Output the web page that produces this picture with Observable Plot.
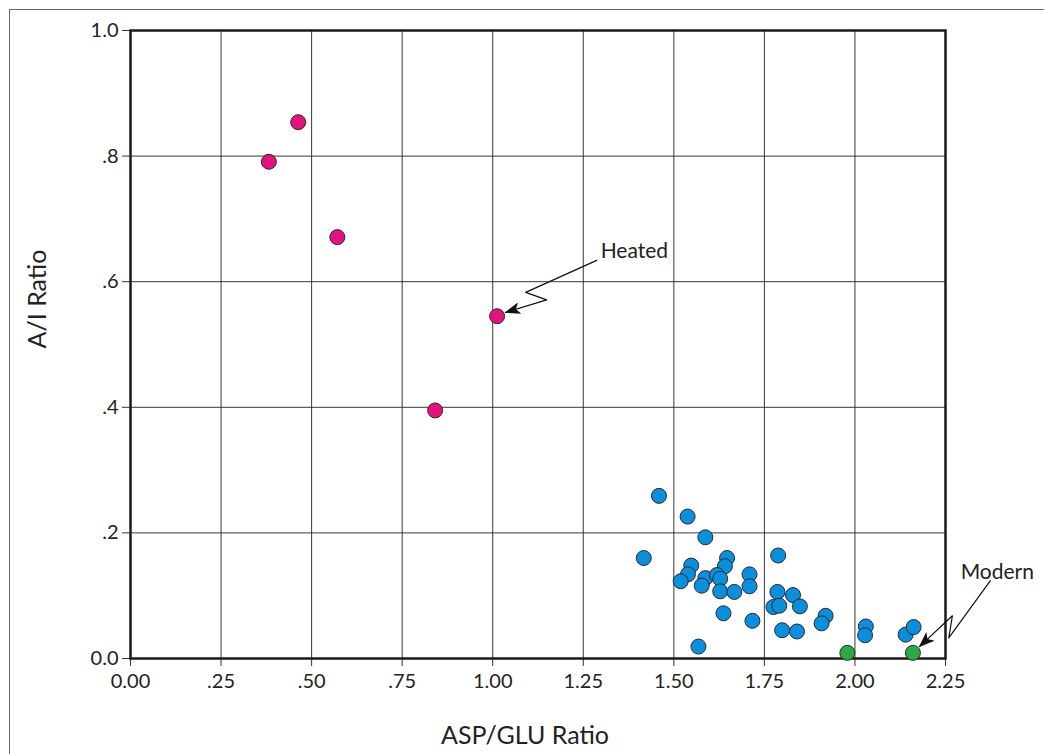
<!DOCTYPE html>
<html><head><meta charset="utf-8">
<script src="https://cdn.jsdelivr.net/npm/d3@7"></script>
<script src="https://cdn.jsdelivr.net/npm/@observablehq/plot@0.6"></script>
<style>
body{margin:0;background:#fff;}
#wrap{position:relative;width:1044px;height:754px;overflow:hidden;}
#outer{position:absolute;left:9px;top:9px;width:1100px;height:800px;border-left:1.5px solid #666;border-top:1.5px solid #666;pointer-events:none;}
#chart{position:absolute;left:0;top:0;}
</style></head><body>
<div id="wrap"><div id="outer"></div><div id="chart"></div></div>
<script>
// Heated samples (magenta)
const heatedX = [0.463, 0.382, 0.571, 1.012, 0.841];
const heatedY = [0.854, 0.791, 0.671, 0.545, 0.395];
// Archaeological samples (blue)
const sampleX = [1.459, 1.538, 1.587, 1.417, 1.548, 1.539, 1.519, 1.587, 1.577, 1.647,
                 1.641, 1.619, 1.628, 1.628, 1.667, 1.709, 1.709, 1.637, 1.717, 1.568,
                 1.788, 1.786, 1.829, 1.775, 1.791, 1.848, 1.799, 1.840, 1.919, 1.908,
                 2.030, 2.028, 2.140, 2.162];
const sampleY = [0.259, 0.226, 0.193, 0.160, 0.148, 0.134, 0.123, 0.128, 0.116, 0.160,
                 0.147, 0.133, 0.127, 0.107, 0.106, 0.134, 0.115, 0.072, 0.060, 0.019,
                 0.164, 0.106, 0.101, 0.082, 0.084, 0.083, 0.045, 0.043, 0.068, 0.056,
                 0.051, 0.037, 0.038, 0.050];
// Modern samples (green)
const modernX = [1.979, 2.160];
const modernY = [0.009, 0.009];

// Axis ticks and labels
const xTicks = [0, 0.25, 0.5, 0.75, 1.0, 1.25, 1.5, 1.75, 2.0, 2.25];
const xTickLabels = ["0.00", ".25", ".50", ".75", "1.00", "1.25", "1.50", "1.75", "2.00", "2.25"];
const yTicks = [0, 0.2, 0.4, 0.6, 0.8, 1.0];
const yTickLabels = ["0.0", ".2", ".4", ".6", ".8", "1.0"];
const xTitle = "ASP/GLU Ratio";
const yTitle = "A/I Ratio";

// Annotations (data coordinates)
const heatedLabel = {text: "Heated", x: 1.298, y: 0.648};
const heatedArrowX = [1.287, 1.091, 1.149, 1.035];
const heatedArrowY = [0.634, 0.583, 0.571, 0.551];
const modernLabel = {text: "Modern", x: 2.393, y: 0.138};
const modernArrowX = [2.374, 2.259, 2.269, 2.178];
const modernArrowY = [0.124, 0.033, 0.068, 0.019];

const FONT = "Lato, 'DejaVu Sans', sans-serif";
const ARROW = "#101011";
const dotStyle = {r: 7.5, stroke: "#2a2a2a", strokeWidth: 1};

const chart = Plot.plot({
  width: 1044, height: 754,
  marginLeft: 130, marginRight: 99, marginTop: 30, marginBottom: 96,
  style: {fontFamily: FONT, color: "#222", background: "transparent", overflow: "visible"},
  x: {domain: [0, 2.25]},
  y: {domain: [0, 1]},
  marks: [
    Plot.gridX(xTicks, {stroke: "#222", strokeOpacity: 0.9, strokeWidth: 1}),
    Plot.gridY(yTicks, {stroke: "#222", strokeOpacity: 0.9, strokeWidth: 1}),
    Plot.axisX(xTicks, {tickFormat: (d, i) => xTickLabels[i], tickSize: 8, tickPadding: 7, fontSize: 20, label: null, stroke: "#333"}),
    Plot.axisY(yTicks, {tickFormat: (d, i) => yTickLabels[i], tickSize: 8, tickPadding: 4, fontSize: 20, label: null, stroke: "#333"}),
    Plot.text([xTitle], {frameAnchor: "bottom", dy: 77, dx: -13, lineAnchor: "middle", fontSize: 25, fill: "#222"}),
    Plot.text([yTitle], {frameAnchor: "left", dx: -93, dy: 4, rotate: -90, lineAnchor: "middle", fontSize: 25, fill: "#222"}),
    Plot.frame({stroke: "#1a1a1a", strokeWidth: 2.5}),
    Plot.line(heatedArrowX.map((x, i) => ({x, y: heatedArrowY[i]})), {x: "x", y: "y", stroke: ARROW, strokeWidth: 1.2}),
    Plot.line(modernArrowX.map((x, i) => ({x, y: modernArrowY[i]})), {x: "x", y: "y", stroke: ARROW, strokeWidth: 1.2}),
    Plot.dot(sampleX.map((x, i) => ({x, y: sampleY[i]})), {x: "x", y: "y", fill: "#0b8fdc", ...dotStyle}),
    Plot.dot(heatedX.map((x, i) => ({x, y: heatedY[i]})), {x: "x", y: "y", fill: "#e0137f", ...dotStyle}),
    Plot.dot(modernX.map((x, i) => ({x, y: modernY[i]})), {x: "x", y: "y", fill: "#2aa84a", ...dotStyle}),
    Plot.text([heatedLabel], {x: "x", y: "y", text: "text", textAnchor: "start", fontSize: 21, fill: "#222"}),
    Plot.text([modernLabel], {x: "x", y: "y", text: "text", textAnchor: "middle", fontSize: 21, fill: "#222"})
  ]
});
document.getElementById("chart").appendChild(chart);

// filled arrowheads
const ns = "http://www.w3.org/2000/svg";
const defs = document.createElementNS(ns, "defs");
const marker = document.createElementNS(ns, "marker");
marker.setAttribute("id", "ahead");
marker.setAttribute("viewBox", "0 0 16 12");
marker.setAttribute("refX", "15");
marker.setAttribute("refY", "6");
marker.setAttribute("markerWidth", "16");
marker.setAttribute("markerHeight", "12");
marker.setAttribute("markerUnits", "userSpaceOnUse");
marker.setAttribute("orient", "auto");
const mp = document.createElementNS(ns, "path");
mp.setAttribute("d", "M0,0 L16,6 L0,12 L4,6 Z");
mp.setAttribute("fill", "#111");
marker.appendChild(mp);
defs.appendChild(marker);
chart.insertBefore(defs, chart.firstChild);
chart.querySelectorAll('[stroke="' + ARROW + '"]').forEach(g => {
  const paths = g.tagName === "path" ? [g] : g.querySelectorAll("path");
  paths.forEach(p => p.setAttribute("marker-end", "url(#ahead)"));
});
</script>
</body></html>
